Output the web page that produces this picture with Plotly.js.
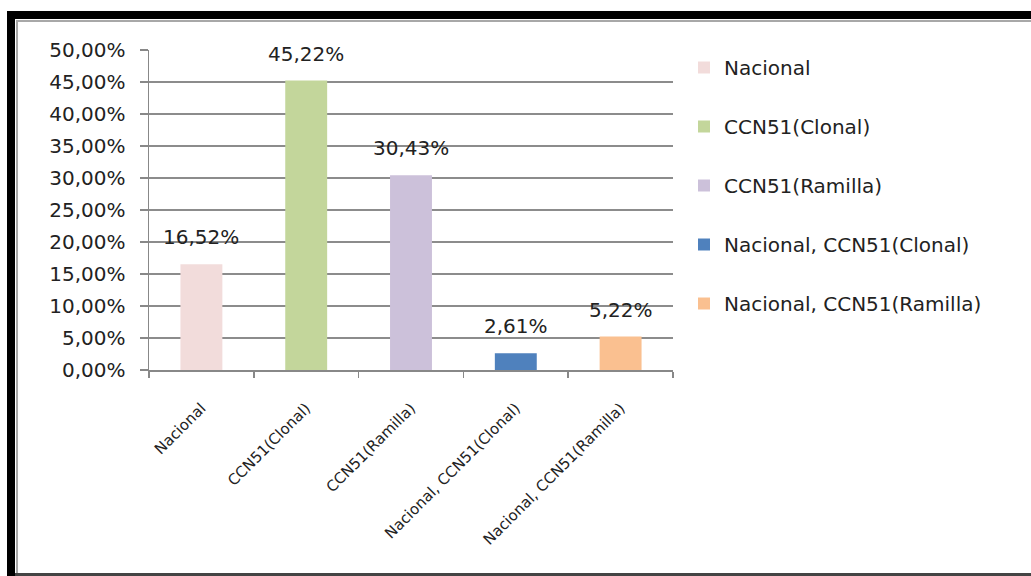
<!DOCTYPE html>
<html><head><meta charset="utf-8">
<script src="https://cdn.plot.ly/plotly-3.0.1.min.js"></script>
<style>html,body{margin:0;padding:0;background:#fff;overflow:hidden;} #chart{width:1031px;height:576px;}</style>
</head><body><div id="chart"></div>
<script>
const categories = ["Nacional", "CCN51(Clonal)", "CCN51(Ramilla)", "Nacional, CCN51(Clonal)", "Nacional, CCN51(Ramilla)"];
const values = [16.52, 45.22, 30.43, 2.61, 5.22];
const colors = ["#F2DCDB", "#C3D69B", "#CCC1DA", "#4F81BD", "#FAC090"];
const yTickValues = [0, 5, 10, 15, 20, 25, 30, 35, 40, 45, 50];

const L = 149, R = 673, T = 50, B = 370, W = 1031, H = 576;
const px = v => (v - L) / (R - L);
const py = v => (B - v) / (B - T);

const fmt = v => v.toFixed(2).replace('.', ',') + '%';

const traces = categories.map((c, i) => ({
  type: 'bar',
  name: c,
  x: [c],
  y: [values[i]],
  marker: {color: colors[i], line: {width: 0}},
  legendgroup: 'g' + i,
  hoverinfo: 'skip'
}));

const annotations = categories.map((c, i) => ({
  x: c, y: values[i], xref: 'x', yref: 'y',
  text: fmt(values[i]), showarrow: false,
  yanchor: 'bottom', yshift: 13,
  font: {family: 'DejaVu Sans', size: 20, color: '#222'}
}));

const shapes = [
  {type: 'rect', xref: 'paper', yref: 'paper', x0: px(7), x1: px(15), y0: py(11), y1: py(580), fillcolor: '#000', line: {width: 0}},
  {type: 'rect', xref: 'paper', yref: 'paper', x0: px(7), x1: px(1040), y0: py(11), y1: py(19), fillcolor: '#000', line: {width: 0}},
  {type: 'rect', xref: 'paper', yref: 'paper', x0: px(16), x1: px(18), y0: py(20), y1: py(573), fillcolor: '#a8a8a8', line: {width: 0}},
  {type: 'rect', xref: 'paper', yref: 'paper', x0: px(16), x1: px(1040), y0: py(20), y1: py(22), fillcolor: '#a8a8a8', line: {width: 0}},
  {type: 'rect', xref: 'paper', yref: 'paper', x0: px(15), x1: px(1040), y0: py(573), y1: py(580), fillcolor: '#444', line: {width: 0}}
];

const layout = {
  width: W, height: H,
  margin: {l: L, r: W - R, t: T, b: H - B, pad: 0},
  paper_bgcolor: '#fff', plot_bgcolor: '#fff',
  separators: ',.',
  barmode: 'overlay', bargap: 0.6,
  font: {family: 'DejaVu Sans', size: 20, color: '#222'},
  xaxis: {
    type: 'category', categoryarray: categories,
    tickson: 'boundaries', ticks: 'outside', ticklen: 6, tickcolor: '#888', tickwidth: 1.5,
    showline: true, linecolor: '#888', linewidth: 1.5,
    tickangle: -45, ticklabelstandoff: 22,
    tickfont: {family: 'DejaVu Sans', size: 15, color: '#222'},
    showgrid: false, zeroline: false, fixedrange: true
  },
  yaxis: {
    range: [0, 50], tickvals: yTickValues, ticktext: yTickValues.map(fmt),
    ticks: 'outside', ticklen: 8, tickcolor: '#888', tickwidth: 1.5,
    showline: true, linecolor: '#888', linewidth: 1.5,
    showgrid: true, gridcolor: '#8c8c8c', gridwidth: 1.5,
    zeroline: false, ticklabelstandoff: 10,
    tickfont: {family: 'DejaVu Sans', size: 20, color: '#222'}, fixedrange: true
  },
  legend: {
    x: px(684), xanchor: 'left', y: py(48), yanchor: 'top',
    traceorder: 'grouped', tracegroupgap: 30,
    font: {family: 'DejaVu Sans', size: 20, color: '#222'},
    bgcolor: 'rgba(0,0,0,0)', borderwidth: 0
  },
  showlegend: true,
  annotations: annotations,
  shapes: shapes
};

Plotly.newPlot('chart', traces, layout, {displayModeBar: false, staticPlot: true});
</script>
</body></html>
